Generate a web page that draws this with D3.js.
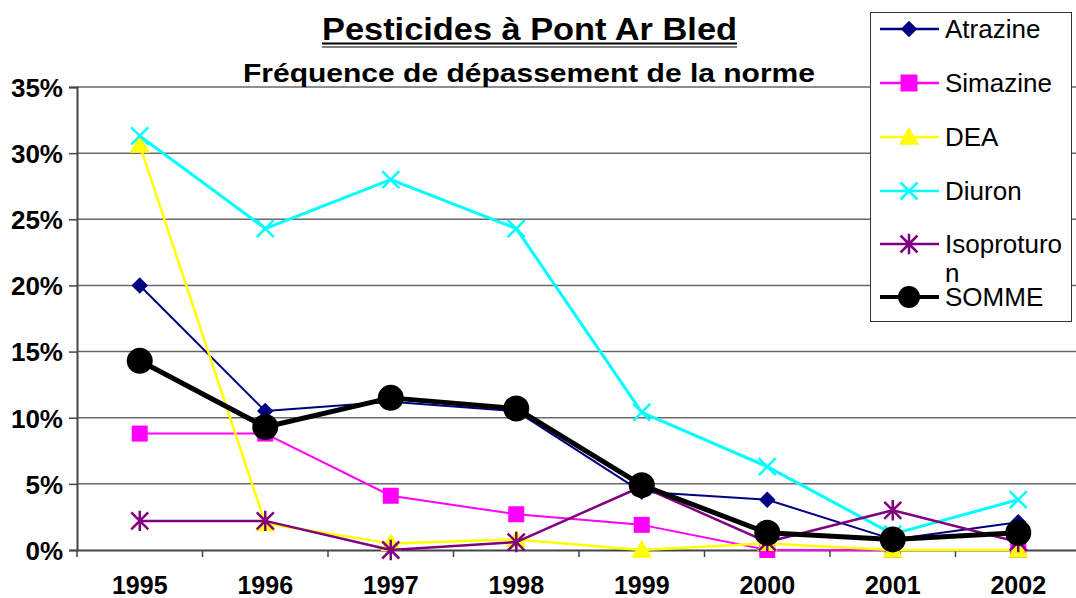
<!DOCTYPE html>
<html>
<head>
<meta charset="utf-8">
<script src="https://cdn.jsdelivr.net/npm/d3@7"></script>
<style>
  html, body { margin: 0; padding: 0; background: #fff; }
  svg { display: block; font-family: "Liberation Sans", Arial, sans-serif; }
</style>
</head>
<body>
<svg id="chart" width="1076" height="598"></svg>
<script>
// Years on the category axis
const years = ["1995", "1996", "1997", "1998", "1999", "2000", "2001", "2002"];

// Frequency of exceeding the norm (%), one array per pesticide
const atrazine    = [20.0, 10.5, 11.2, 10.5, 4.4, 3.8, 0.8, 2.1];
const simazine    = [8.8, 8.8, 4.1, 2.7, 1.9, 0.0, 0.0, 0.0];
const dea         = [30.6, 2.0, 0.5, 0.8, 0.0, 0.5, 0.0, 0.0];
const diuron      = [31.3, 24.3, 28.0, 24.3, 10.4, 6.3, 1.2, 3.8];
const isoproturon = [2.2, 2.2, 0.0, 0.6, 4.8, 0.6, 3.0, 0.6];
const somme       = [14.3, 9.3, 11.5, 10.7, 4.9, 1.3, 0.8, 1.3];

const yTicks = [0, 5, 10, 15, 20, 25, 30, 35];

const seriesList = [
  { name: "Atrazine",    values: atrazine,    color: "#000080", width: 2,   symbol: "diamond" },
  { name: "Simazine",    values: simazine,    color: "#FF00FF", width: 2,   symbol: "square" },
  { name: "DEA",         values: dea,         color: "#FFFF00", width: 2.5, symbol: "triangle" },
  { name: "Diuron",      values: diuron,      color: "#00FFFF", width: 3,   symbol: "x" },
  { name: "Isoproturon", values: isoproturon, color: "#800080", width: 2.5, symbol: "star" },
  { name: "SOMME",       values: somme,       color: "#000000", width: 5,   symbol: "circle" }
];

const svg = d3.select("#chart");
const plot = { left: 77, right: 1081, top: 87, bottom: 550 };

const x = d3.scaleBand().domain(years).range([plot.left, plot.right]);
const y = d3.scaleLinear().domain([0, 35]).range([plot.bottom, plot.top]);
const cx = d => x(d) + x.bandwidth() / 2;

// Horizontal gridlines
svg.append("g")
  .selectAll("line")
  .data(yTicks.filter(t => t > 0))
  .join("line")
  .attr("x1", plot.left).attr("x2", plot.right)
  .attr("y1", d => y(d)).attr("y2", d => y(d))
  .attr("stroke", "#6a6a6a").attr("stroke-width", 1.5);

// Y axis
const yAxis = svg.append("g")
  .attr("transform", `translate(${plot.left},0)`)
  .call(d3.axisLeft(y).tickValues(yTicks).tickFormat(d => d + "%").tickSize(8).tickPadding(6));
yAxis.select(".domain").attr("stroke", "#444").attr("stroke-width", 2);
yAxis.selectAll(".tick line").attr("stroke", "#444").attr("stroke-width", 1.5);
yAxis.selectAll("text")
  .attr("fill", "#000").style("font-size", "26px").style("font-weight", "bold")
  .attr("dy", "0.36em");

// X axis with ticks at category boundaries
const xAxis = svg.append("g")
  .attr("transform", `translate(0,${plot.bottom})`)
  .call(d3.axisBottom(x).tickSize(0).tickPadding(0));
xAxis.select(".domain").attr("stroke", "#444").attr("stroke-width", 2);
xAxis.selectAll("text")
  .attr("fill", "#000").attr("dy", null).attr("y", 44)
  .style("font-size", "25px").style("font-weight", "bold");
xAxis.selectAll(".bound")
  .data(years)
  .join("line")
  .attr("class", "bound")
  .attr("x1", d => x(d)).attr("x2", d => x(d))
  .attr("y1", 0).attr("y2", 7)
  .attr("stroke", "#444").attr("stroke-width", 1.5);

// Marker drawing
function drawMarker(g, symbol, color, size) {
  if (symbol === "diamond") {
    g.append("path").attr("d", d3.symbol(d3.symbolDiamond2, size * size * 0.6)())
      .attr("fill", color);
  } else if (symbol === "square") {
    g.append("rect").attr("x", -size / 2).attr("y", -size / 2)
      .attr("width", size).attr("height", size).attr("fill", color);
  } else if (symbol === "triangle") {
    g.append("path").attr("d", `M0,${-size * 0.6}L${size * 0.6},${size * 0.45}L${-size * 0.6},${size * 0.45}Z`)
      .attr("fill", color);
  } else if (symbol === "x") {
    const h = size / 2;
    g.append("path").attr("d", `M${-h},${-h}L${h},${h}M${-h},${h}L${h},${-h}`)
      .attr("stroke", color).attr("stroke-width", 2.5).attr("fill", "none");
  } else if (symbol === "star") {
    const h = size / 2;
    g.append("path").attr("d", `M${-h},${-h}L${h},${h}M${-h},${h}L${h},${-h}M0,${-h * 1.2}L0,${h * 1.2}`)
      .attr("stroke", color).attr("stroke-width", 2.5).attr("fill", "none");
  } else if (symbol === "circle") {
    g.append("circle").attr("r", size / 2).attr("fill", color);
  }
}

const markerSize = { diamond: 17, square: 16, triangle: 17, x: 17, star: 17, circle: 26 };

const line = d3.line().x(d => cx(d.year)).y(d => y(d.v));

seriesList.forEach(s => {
  const pts = years.map((yr, i) => ({ year: yr, v: s.values[i] }));
  const g = svg.append("g");
  g.append("path").datum(pts)
    .attr("d", line)
    .attr("fill", "none")
    .attr("stroke", s.color)
    .attr("stroke-width", s.width)
    .attr("stroke-linejoin", "round");
  pts.forEach(p => {
    const mg = g.append("g").attr("transform", `translate(${cx(p.year)},${y(p.v)})`);
    drawMarker(mg, s.symbol, s.color, markerSize[s.symbol]);
  });
});

// Titles
const titleLeft = 322, titleWidth = 415;
svg.append("text")
  .attr("x", titleLeft).attr("y", 40)
  .attr("textLength", titleWidth).attr("lengthAdjust", "spacingAndGlyphs")
  .style("font-size", "32px").style("font-weight", "bold")
  .text("Pesticides à Pont Ar Bled");
svg.append("line").attr("x1", titleLeft).attr("x2", titleLeft + titleWidth)
  .attr("y1", 43.5).attr("y2", 43.5).attr("stroke", "#000").attr("stroke-width", 2.2);
svg.append("line").attr("x1", titleLeft).attr("x2", titleLeft + titleWidth)
  .attr("y1", 47).attr("y2", 47).attr("stroke", "#000").attr("stroke-width", 1.2);

svg.append("text")
  .attr("x", 243).attr("y", 82)
  .attr("textLength", 572).attr("lengthAdjust", "spacingAndGlyphs")
  .style("font-size", "25px").style("font-weight", "bold")
  .text("Fréquence de dépassement de la norme");

// Legend
const legend = svg.append("g");
legend.append("rect")
  .attr("x", 870.5).attr("y", 12.5).attr("width", 201).attr("height", 309)
  .attr("fill", "#fff").attr("stroke", "#333").attr("stroke-width", 1);

const legendRows = [29, 83, 137, 191, 244, 297];
seriesList.forEach((s, i) => {
  const ly = legendRows[i];
  const lg = legend.append("g");
  lg.append("line").attr("x1", 880).attr("x2", 939).attr("y1", ly).attr("y2", ly)
    .attr("stroke", s.color).attr("stroke-width", s.symbol === "circle" ? 4 : 2.5);
  const mg = lg.append("g").attr("transform", `translate(909,${ly})`);
  drawMarker(mg, s.symbol, s.color, s.symbol === "circle" ? 22 : 17);
  if (s.name === "Isoproturon") {
    lg.append("text").attr("x", 945).attr("y", ly + 9)
      .style("font-size", "26px").text("Isoproturo");
    lg.append("text").attr("x", 945).attr("y", ly + 38)
      .style("font-size", "26px").text("n");
  } else {
    lg.append("text").attr("x", 945).attr("y", ly + 9)
      .style("font-size", "26px").text(s.name);
  }
});
</script>
</body>
</html>
